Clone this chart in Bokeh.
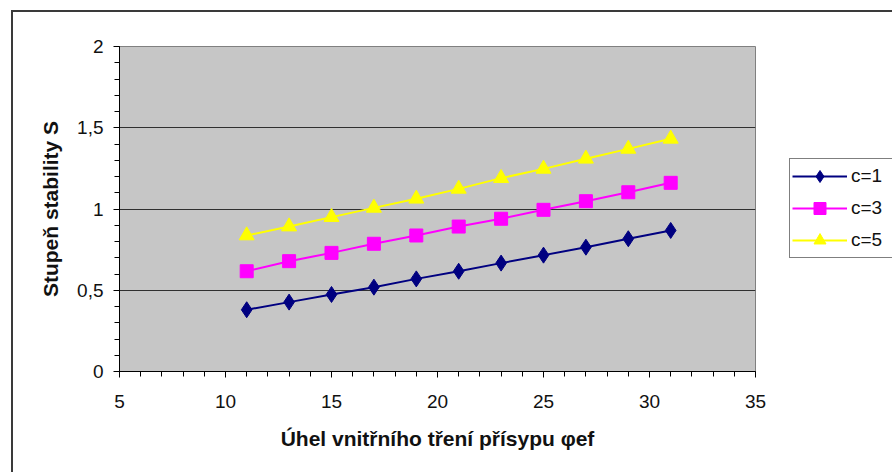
from bokeh.plotting import figure
from bokeh.layouts import row
from bokeh.models import Range1d, SingleIntervalTicker, CustomJSTickFormatter, Legend, LegendItem
from bokeh.embed import file_html
from bokeh.resources import INLINE

# data
phi = [11, 13, 15, 17, 19, 21, 23, 25, 27, 29, 31]
s_c1 = [0.38, 0.427, 0.474, 0.519, 0.57, 0.617, 0.667, 0.716, 0.765, 0.817, 0.868]
s_c3 = [0.617, 0.679, 0.730, 0.786, 0.837, 0.892, 0.94, 0.995, 1.048, 1.103, 1.161]
s_c5 = [0.837, 0.892, 0.95, 1.007, 1.063, 1.124, 1.19, 1.247, 1.309, 1.37, 1.432]
series_labels = ["c=1", "c=3", "c=5"]
x_title = "Úhel vnitřního tření přísypu φef"
y_title = "Stupeň stability S"

FONT = "Liberation Sans"

p = figure(width=789, height=472, output_backend="svg", toolbar_location=None,
           x_range=Range1d(5, 35), y_range=Range1d(0, 2),
           min_border_left=119, min_border_right=34, min_border_top=46, min_border_bottom=101)

p.background_fill_color = "#c6c6c6"
p.border_fill_alpha = 0
p.outline_line_color = "#808080"
p.outline_line_width = 1

p.xgrid.grid_line_color = None
p.ygrid.grid_line_color = "#303030"
p.ygrid.grid_line_width = 1

p.xaxis.ticker = SingleIntervalTicker(interval=5, num_minor_ticks=5)
p.yaxis.ticker = SingleIntervalTicker(interval=0.5, num_minor_ticks=5)
p.yaxis.formatter = CustomJSTickFormatter(code="return (Math.round(tick*10)/10).toString().replace('.', ',');")

for ax in (p.xaxis, p.yaxis):
    ax.axis_line_color = "black"
    ax.major_tick_line_color = "black"
    ax.minor_tick_line_color = "black"
    ax.major_tick_in = 0
    ax.minor_tick_in = 0
    ax.major_tick_out = 6
    ax.minor_tick_out = 5
    ax.major_label_text_font = FONT
    ax.major_label_text_font_size = "19px"
    ax.major_label_text_color = "#111111"
    ax.axis_label_text_font = FONT
    ax.axis_label_text_font_size = "21px"
    ax.axis_label_text_font_style = "bold"
    ax.axis_label_text_color = "#111111"

p.xaxis.major_label_standoff = 17
p.yaxis.major_label_standoff = 10
p.xaxis.axis_label = x_title
p.yaxis.axis_label = y_title
p.xaxis.axis_label_standoff = 16
p.yaxis.axis_label_standoff = 12

colors = ["#000080", "#ff00ff", "#ffff00"]
ys = [s_c1, s_c3, s_c5]
markers = ["diamond", "square", "triangle"]
sizes = [16, 13, 15]

# legend panel (separate figure to the right, frame aligned with the main plot)
pl = figure(width=103, height=472, output_backend="svg", toolbar_location=None,
            x_range=Range1d(0, 1), y_range=Range1d(0, 1),
            x_axis_type=None, y_axis_type=None,
            min_border_left=0, min_border_right=0, min_border_top=0, min_border_bottom=0)
pl.outline_line_color = None
pl.background_fill_alpha = 0
pl.border_fill_alpha = 0

items = []
for y, c, m, sz, lab in zip(ys, colors, markers, sizes, series_labels):
    p.line(phi, y, line_color=c, line_width=2)
    p.scatter(phi, y, marker=m, size=sz, fill_color=c, line_color=c)
    r1 = pl.line([5, 6], [5, 6], line_color=c, line_width=2)
    r2 = pl.scatter([5], [5], marker=m, size=sz, fill_color=c, line_color=c)
    items.append(LegendItem(label=lab, renderers=[r1, r2]))

lg = Legend(items=items, location=(0, 113))
lg.margin = 0
lg.padding = 2
lg.spacing = 2
lg.glyph_width = 55
lg.glyph_height = 30
lg.label_height = 30
lg.label_width = 40
lg.label_standoff = 4
lg.label_text_font = FONT
lg.label_text_font_size = "19px"
lg.label_text_color = "#111111"
lg.border_line_color = "black"
lg.border_line_width = 1
lg.background_fill_color = "white"
lg.background_fill_alpha = 1
pl.add_layout(lg)

lay = row(p, pl, spacing=0)
lay.styles = {"background": "linear-gradient(#3a3a3a,#3a3a3a) 11px 10px / 2px 100% no-repeat, "
                            "linear-gradient(#3a3a3a,#3a3a3a) 11px 10px / 100% 2px no-repeat, white"}

open("out.html", "w").write(file_html(lay, INLINE))
